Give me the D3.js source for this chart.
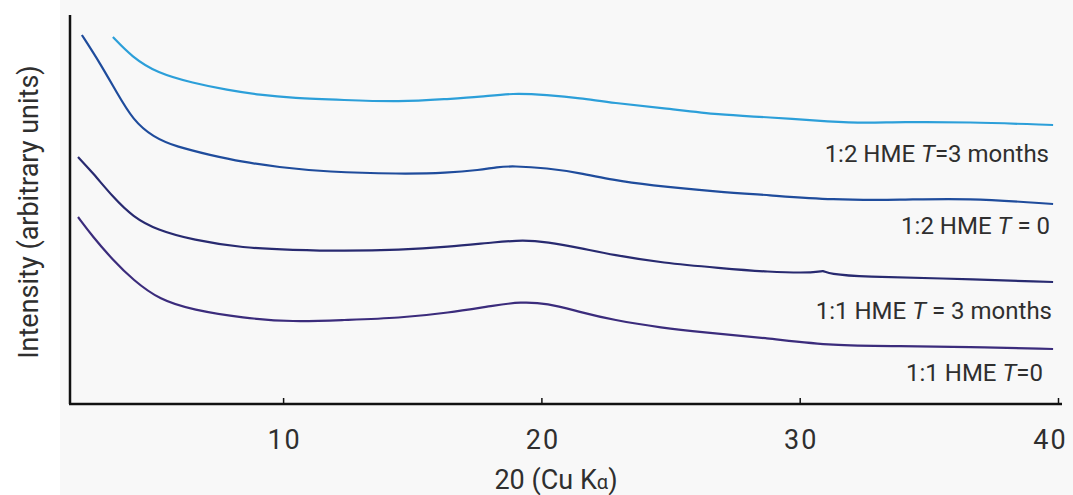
<!DOCTYPE html>
<html>
<head>
<meta charset="utf-8">
<script src="https://cdn.jsdelivr.net/npm/d3@7"></script>
<style>
  body { margin: 0; background: #f8f8f8; }
  svg { display: block; }
  text { font-family: Roboto, "Liberation Sans", sans-serif; fill: #2f2f2f; }
</style>
</head>
<body>
<div id="wrapper"></div>
<script>
// series (2θ in degrees, intensity in arbitrary units)
const seriesNames = ["1:2 HME T=3 months", "1:2 HME T = 0", "1:1 HME T = 3 months", "1:1 HME T=0"]

const theta12m3 = [3.41,4.15,5.12,6.51,7.83,9.11,10.38,12.32,14.53,16.35,17.62,18.9,20.22,21.49,22.77,24.71,26.91,28.73,31.29,32.6,33.88,36.48,39.81]
const int12m3   = [367,347,331,321,314,309,306,304,302,305,307,311,309,306,301,296,289,287,282,281,282,282,279]

const theta12t0 = [2.21,2.91,3.57,4.19,4.96,5.89,7.17,8.45,9.76,11.7,14.53,16.35,17.62,18.28,18.9,20.22,21.49,22.77,24.09,26.91,28.73,31.29,33.88,36.48,39.81]
const int12t0   = [369,341,311,284,267,257,249,242,237,232,230,231,234,237,238,236,231,224,219,212,209,204,204,206,200]

const theta11m3 = [2.06,2.64,3.41,4.19,5.12,6.51,8.45,10.38,12.32,14.53,16.35,18.28,19.29,20.22,21.49,22.77,24.71,26.91,28.73,30.71,30.9,31.1,32.6,35.16,39.81]
const int11m3   = [247,231,207,187,174,164,156,154,153,154,157,162,164,162,156,149,141,136,132,131,134,130,127,126,122]

const theta11t0 = [2.06,2.64,3.41,4.19,5.23,6.51,8.45,10.38,12.32,14.53,16.35,18.28,19.17,20.22,21.49,22.77,24.71,26.14,28.73,31.29,33.88,36.48,39.81]
const int11t0   = [187,167,144,124,104,94,86,82,84,86,91,99,102,101,92,84,76,72,66,58,58,57,55]

const xTicks = [10, 20, 30, 40]

function drawChart(){
    const dimensions = {
        width: 1073,
        height: 495,
        margin: { top: 15, right: 15, bottom: 91, left: 70 },
    }
    dimensions.boundedWidth = 1058 - dimensions.margin.left
    dimensions.boundedHeight = dimensions.height - dimensions.margin.top - dimensions.margin.bottom

    const svg = d3.select("#wrapper").append("svg")
        .attr("width", dimensions.width)
        .attr("height", dimensions.height)

    // white strip on the left edge
    svg.append("rect").attr("x", 0).attr("y", 0).attr("width", 60).attr("height", dimensions.height).attr("fill", "#ffffff")

    const bounds = svg.append("g")
        .attr("transform", `translate(${dimensions.margin.left},${dimensions.margin.top})`)

    const xScale = d3.scaleLinear().domain([1.75, 40]).range([0, dimensions.boundedWidth])
    const yScale = d3.scaleLinear().domain([0, 389]).range([dimensions.boundedHeight, 0])

    const series = [
        { name: seriesNames[0], x: theta12m3, y: int12m3, color: "#2c9fd9" },
        { name: seriesNames[1], x: theta12t0, y: int12t0, color: "#1f4c9c" },
        { name: seriesNames[2], x: theta11m3, y: int11m3, color: "#282a70" },
        { name: seriesNames[3], x: theta11t0, y: int11t0, color: "#3b2c7c" },
    ]

    const line = d3.line()
        .x(d => xScale(d[0]))
        .y(d => yScale(d[1]))
        .curve(d3.curveBasis)

    bounds.selectAll("path.trace")
        .data(series)
        .join("path")
        .attr("class", "trace")
        .attr("fill", "none")
        .attr("stroke", d => d.color)
        .attr("stroke-width", 2.2)
        .attr("stroke-linejoin", "round")
        .attr("d", d => line(d3.zip(d.x, d.y)))

    // trace labels (right aligned under each curve)
    const labelY = [162, 234, 319, 381]
    const labelX = [1049, 1050, 1052, 1043]
    series.forEach((s, i) => {
        const t = svg.append("text")
            .attr("x", labelX[i])
            .attr("y", labelY[i])
            .attr("text-anchor", "end")
            .style("font-size", "24px")
        const parts = s.name.split("T")
        t.append("tspan").text(parts[0])
        t.append("tspan").style("font-style", "italic").text("T")
        t.append("tspan").text(parts[1])
    })

    // axes
    const xAxis = bounds.append("g")
        .attr("transform", `translate(0,${dimensions.boundedHeight})`)
        .call(d3.axisBottom(xScale).tickValues(xTicks).tickSizeInner(-6).tickSizeOuter(0).tickPadding(26))
    xAxis.select(".domain").attr("stroke", "#111").attr("stroke-width", 2.5).attr("d", `M-1,0H${dimensions.boundedWidth + 4}`)
    xAxis.selectAll(".tick line").attr("stroke", "#111").attr("stroke-width", 1.5)
    xAxis.selectAll(".tick text")
        .style("font-size", "27px")
        .style("letter-spacing", "2px")
        .style("font-family", "Roboto, sans-serif")
        .attr("fill", "#2f2f2f")
        .attr("dx", (d, i) => i === xTicks.length - 1 ? -8 : 1)

    bounds.append("line")
        .attr("x1", 0).attr("x2", 0)
        .attr("y1", 0).attr("y2", dimensions.boundedHeight)
        .attr("stroke", "#111").attr("stroke-width", 2.5)

    // axis titles
    const xTitle = svg.append("text")
        .attr("x", 556)
        .attr("y", 489)
        .attr("text-anchor", "middle")
        .style("font-size", "27px")
    xTitle.append("tspan").text("20 (Cu K")
    xTitle.append("tspan").style("font-size", "20px").text("α")
    xTitle.append("tspan").text(")")

    svg.append("text")
        .attr("transform", "translate(38,212) rotate(-90)")
        .attr("text-anchor", "middle")
        .style("font-size", "27px")
        .text("Intensity (arbitrary units)")
}

drawChart()
</script>
</body>
</html>
